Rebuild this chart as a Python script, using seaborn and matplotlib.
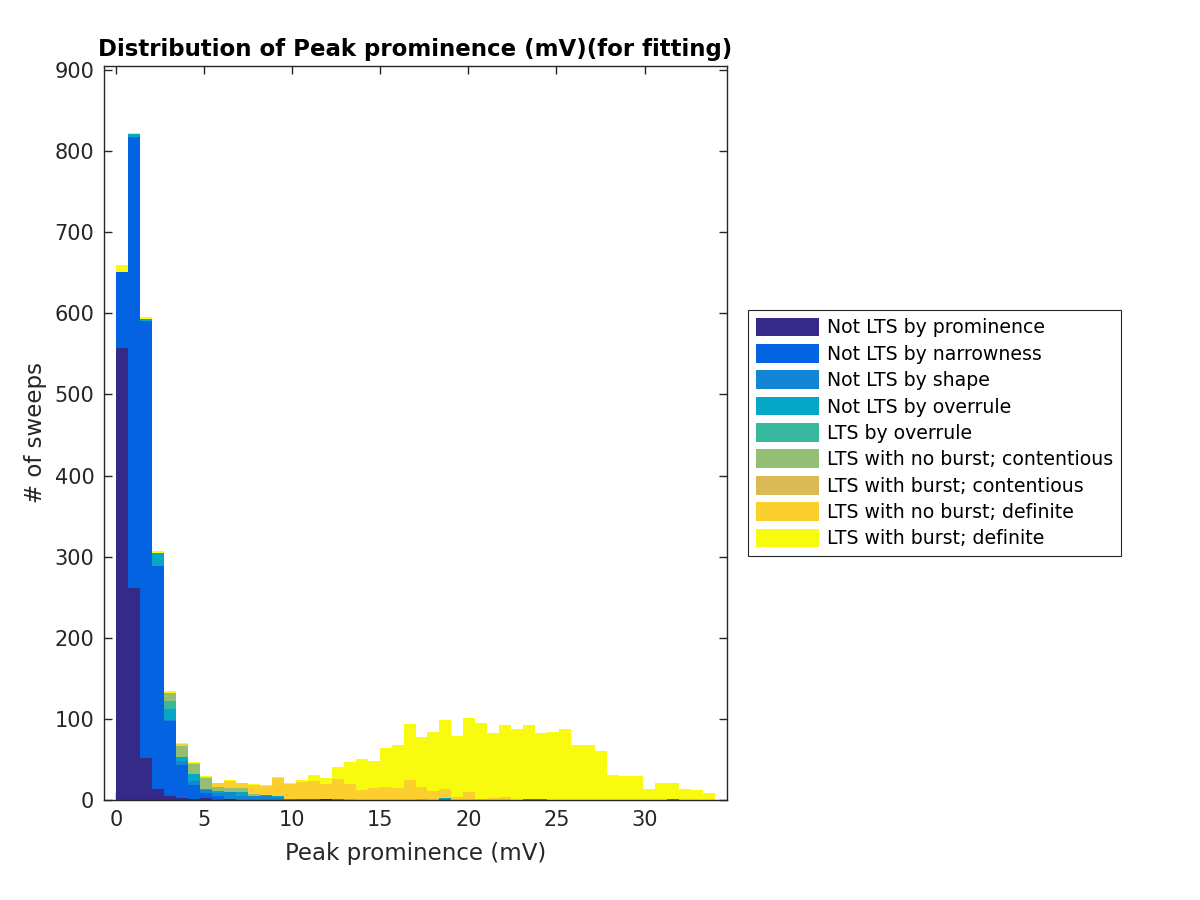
import numpy as np
import pandas as pd
import matplotlib
matplotlib.use("Agg")
import matplotlib.pyplot as plt
import seaborn as sns

# ---------------- data ----------------
categories = [
    "Not LTS by prominence",
    "Not LTS by narrowness",
    "Not LTS by shape",
    "Not LTS by overrule",
    "LTS by overrule",
    "LTS with no burst; contentious",
    "LTS with burst; contentious",
    "LTS with no burst; definite",
    "LTS with burst; definite",
]
colors = ["#352A87", "#0363E1", "#1485D4", "#06A7C6", "#38B99E",
          "#92BF73", "#D9BA56", "#FCCE2E", "#F9FB0E"]

bin_start = 0.0
bin_width = 0.68
n_bins = 50

# counts per bin (50 bins) for each category
not_prominence = [557, 261, 52, 13, 5, 2.5, 1, 3, 0, 1,
                  0, 0, 0, 0, 0, 0, 0, 1, 0, 0,
                  0, 0, 0, 0, 0, 0, 0, 0, 0, 0,
                  0, 0, 0, 0, 0, 0, 0, 0, 0, 0,
                  0, 0, 0, 0, 0, 0, 0, 0, 0, 0]
not_narrowness = [94, 556, 539, 275, 93, 41, 18, 6, 4.5, 0,
                  0, 0, 0, 0, 0, 0, 0, 0, 0, 0,
                  0, 0, 0, 0, 0, 0, 0, 0, 0, 0,
                  0, 0, 0, 0, 0, 0, 0, 0, 0, 0,
                  0, 0, 0, 0, 0, 0, 0, 0, 0, 0]
not_shape = [0, 0, 0, 0, 1, 5, 5, 3, 4.5, 9.3,
             4.5, 4.5, 4.5, 4, 0, 1, 1, 0, 0, 0,
             0, 0, 0, 0, 0, 0, 0, 1.5, 0, 0,
             0, 0, 0, 0, 0, 0, 0, 0, 0, 0,
             0, 0, 0, 0, 0, 0, 0, 0, 0, 0]
not_overrule = [0, 4, 2, 17, 13, 5, 7.5, 1, 2.5, 0,
                5, 0, 1.5, 1, 1, 0, 0, 0, 1, 0,
                0, 0, 0, 0, 0, 0, 0, 1.5, 0, 0,
                0, 0, 0, 0, 1.5, 1, 0, 0, 0, 0,
                0, 0, 0, 0, 0, 0, 1, 0, 0, 0]
lts_overrule = [0, 0, 0, 0, 10, 0, 1, 1, 0, 0,
                0, 0, 0, 0, 0, 0, 0, 0, 0, 0,
                0, 0, 0, 0, 0, 0, 0, 0, 0, 0,
                0, 0, 0, 0, 0, 0, 0, 0, 0, 0,
                0, 0, 0, 0, 0, 0, 0, 0, 0, 0]
noburst_contentious = [0, 0, 0, 0, 10, 13.5, 11.5, 13, 5, 4,
                       5.5, 3.5, 0, 0, 0, 0, 0, 0, 0, 0,
                       0, 0, 0, 0, 0, 0, 0, 0, 0, 0,
                       0, 0, 0, 0, 0, 0, 0, 0, 0, 0,
                       0, 0, 0, 0, 0, 0, 0, 0, 0, 0]
burst_contentious = [0, 0, 0, 0, 0, 0, 0, 0, 0, 0,
                     0, 0, 0, 0, 0, 0, 0, 0, 0, 1,
                     0, 0, 0, 0, 0, 1, 0, 0, 0, 0,
                     0, 0, 0, 0, 0, 0, 0, 0, 0, 0,
                     0, 0, 0, 0, 0, 0, 0, 0, 0, 0]
noburst_definite = [0, 0, 0, 0, 0, 2, 2, 1.5, 4, 9,
                    5.5, 11, 11.5, 22, 19, 21.5, 23, 19, 25, 19,
                    12.5, 15, 16.5, 15, 25, 15.5, 11.5, 11, 4, 10,
                    1, 2, 4, 0.5, 0, 0, 0, 0, 0, 0,
                    0, 0, 0, 0, 0, 0, 0, 0, 0, 0]
burst_definite = [9, 1.5, 2, 2, 2, 1, 1, 1.5, 1, 1,
                  1, 1, 1.5, 1.5, 1.5, 2.5, 7, 7.5, 15, 27,
                  38.5, 33.5, 48, 53, 69, 61.5, 72.5, 85, 75, 90.5,
                  94, 81, 88, 87.5, 91.5, 82, 84, 88, 68, 68,
                  61, 31, 29, 30, 13, 21.5, 20.5, 14, 12.5, 9]

series = [not_prominence, not_narrowness, not_shape, not_overrule, lts_overrule,
          noburst_contentious, burst_contentious, noburst_definite, burst_definite]

centers = bin_start + bin_width * (np.arange(n_bins) + 0.5)

rows = []
for cat, vals in zip(categories, series):
    for c, v in zip(centers, vals):
        rows.append({"x": float(c), "count": float(v), "category": cat})
df = pd.DataFrame(rows)

# ---------------- plot ----------------
sns.set_theme(style="ticks")
plt.rcParams["font.family"] = ["DejaVu Sans"]

fig = plt.figure(figsize=(12, 9), dpi=100)
ax = fig.add_axes([104 / 1200, 1 - 800 / 900, (727 - 104) / 1200, (800 - 66) / 900])

palette = dict(zip(categories, colors))
sns.histplot(data=df, x="x", weights="count", hue="category",
             hue_order=categories[::-1], palette=palette,
             binwidth=bin_width, binrange=(bin_start, bin_start + bin_width * n_bins),
             multiple="stack", element="bars", fill=True, alpha=1,
             linewidth=0, antialiased=False, ax=ax)

ax.set_xlim(-0.68, 34.68)
ax.set_ylim(0, 905)
ax.set_xticks(np.arange(0, 31, 5))
ax.set_yticks(np.arange(0, 901, 100))

dark = "#262626"
for s in ax.spines.values():
    s.set_visible(True)
    s.set_color(dark)
    s.set_linewidth(1.0)
ax.tick_params(direction="in", top=True, right=True, length=6, width=1,
               colors=dark, labelsize=15, pad=7)

ax.set_xlabel("Peak prominence (mV)", fontsize=16.5, color=dark, labelpad=9)
ax.set_ylabel("# of sweeps", fontsize=16.5, color=dark, labelpad=5)
ax.set_title("Distribution of Peak prominence (mV)(for fitting)",
             fontsize=16.5, fontweight="bold", color="black", pad=7)

leg = ax.get_legend()
handles = list(leg.legend_handles)
labels = [t.get_text() for t in leg.get_texts()]
leg.remove()
order = [labels.index(c) for c in categories]
handles = [handles[i] for i in order]
labels = [labels[i] for i in order]
lg = fig.legend(handles, labels, loc="center",
                bbox_to_anchor=(934.5 / 1200, 1 - 433 / 900),
                fontsize=13.6, frameon=True, fancybox=False, framealpha=1,
                edgecolor=dark, handlelength=3.34, handleheight=1.15,
                labelspacing=0.35, handletextpad=0.45, borderpad=0.4,
                borderaxespad=0)
lg.get_frame().set_linewidth(0.8)
for t in lg.get_texts():
    t.set_color("black")

fig.savefig("out.png", dpi=100)
